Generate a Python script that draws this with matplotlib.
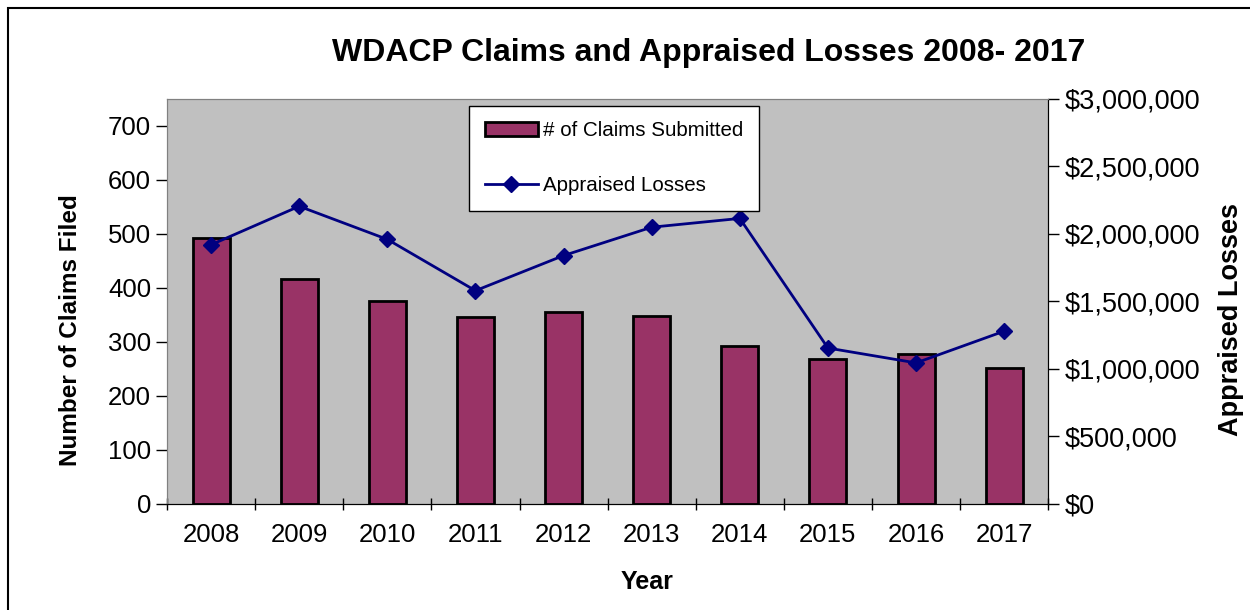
import matplotlib.pyplot as plt
from matplotlib.patches import Rectangle
from matplotlib.ticker import FuncFormatter

plt.rcParams['font.family'] = ['Liberation Sans', 'DejaVu Sans']

years = ['2008', '2009', '2010', '2011', '2012', '2013', '2014', '2015', '2016', '2017']
claims = [492, 416, 376, 347, 356, 349, 293, 269, 277, 251]
losses = [1920000, 2205000, 1960000, 1580000, 1840000, 2050000, 2115000, 1155000, 1045000, 1280000]

fig = plt.figure(figsize=(12.5, 6.1), dpi=100)
ax = fig.add_axes([0.1336, 0.1738, 0.705, 0.664])
ax.set_facecolor('#c0c0c0')

x = range(len(years))
bars = ax.bar(x, claims, width=0.42, color='#993366', edgecolor='black', linewidth=2,
              label='# of Claims Submitted')
ax.set_xlim(-0.5, len(years) - 0.5)
ax.set_ylim(0, 750)
ax.set_yticks(range(0, 701, 100))
ax.set_xticks(list(x))
ax.set_xticklabels(years)
ax.set_xticks([i + 0.5 for i in range(-1, len(years))], minor=True)
ax.tick_params(axis='x', which='major', length=0, labelsize=18.5, pad=14)
ax.tick_params(axis='x', which='minor', length=8, direction='inout', width=1)
ax.tick_params(axis='y', labelsize=18.5, length=8, direction='out', width=1)
ax.set_ylabel('Number of Claims Filed', fontsize=17.5, fontweight='bold')
ax.yaxis.set_label_coords(-0.097, 0.43)
ax.set_xlabel('Year', fontsize=18, fontweight='bold')
ax.xaxis.set_label_coords(0.545, -0.163)

ax2 = ax.twinx()
line, = ax2.plot(x, losses, color='#000080', marker='D', markersize=8, linewidth=2,
                 label='Appraised Losses')
ax2.set_ylim(0, 3000000)
ax2.set_yticks(range(0, 3000001, 500000))
ax2.yaxis.set_major_formatter(FuncFormatter(lambda v, p: '${:,.0f}'.format(v)))
ax2.tick_params(axis='y', labelsize=19.5, length=8, direction='out', width=1)
ax2.set_ylabel('Appraised Losses', fontsize=19.5, fontweight='bold', rotation=90)
ax2.yaxis.set_label_coords(1.193, 0.455)

for a in (ax, ax2):
    a.spines['top'].set_color('#808080')
    a.spines['left'].set_color('#808080')
    a.spines['right'].set_color('black')
    a.spines['bottom'].set_color('black')

leg = ax2.legend([bars, line], ['# of Claims Submitted', 'Appraised Losses'],
                 loc='upper left', bbox_to_anchor=(0.343, 0.983), borderaxespad=0,
                 fontsize=14.8, frameon=True, fancybox=False, edgecolor='black',
                 framealpha=1, labelspacing=1.75, handlelength=2.6, handletextpad=0.25,
                 borderpad=0.75)
leg.get_frame().set_linewidth(1)

fig.text(0.567, 0.913, 'WDACP Claims and Appraised Losses 2008- 2017', ha='center', va='center',
         fontsize=23, fontweight='bold')
fig.patches.append(Rectangle((8 / 1250, -0.1), 1.2, 1 - 8 / 610 + 0.1, transform=fig.transFigure,
                             fill=False, edgecolor='black', linewidth=1.5))

fig.savefig('out.png', dpi=100)
